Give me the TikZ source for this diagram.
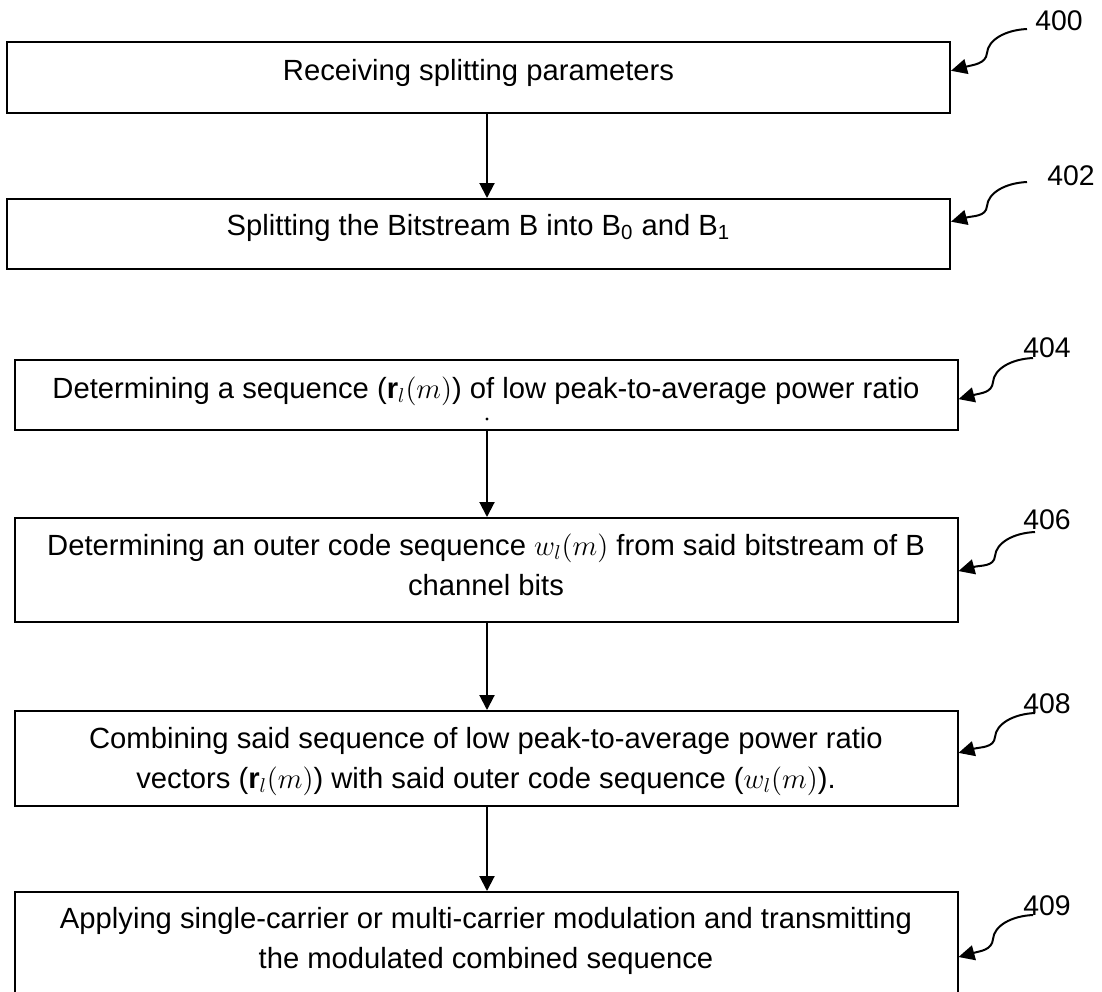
\documentclass[tikz,border=0pt]{standalone}
\usepackage{fontspec}
\setmainfont{Liberation Sans}
\usetikzlibrary{arrows.meta,calc}
\tikzset{
  stepbox/.style={draw, line width=1pt, inner xsep=0pt, inner ysep=0pt,
    minimum width=471.5pt, anchor=base,
    font=\fontsize{14.6pt}{20pt}\selectfont},
  reflabel/.style={anchor=base west, inner sep=0pt,
    font=\fontsize{14.2pt}{16pt}\selectfont},
  flow/.style={line width=1pt, -{Triangle[length=7.5pt,width=7.5pt]}},
  lead/.style={line width=1pt, -{Triangle[length=8pt,width=7.5pt]}},
}
\newcommand\callout[2]{\draw[lead] (#1) .. controls ($(#1)+(-22,1)$) and ($(#1)+(-39,11)$) .. ($(#1)+(-40,24)$) .. controls ($(#1)+(-41,35)$) and ($(#2)+(22,-6)$) .. (#2);}
\begin{document}
\begin{tikzpicture}[x=0.5pt,y=-0.5pt]
\useasboundingbox (0,0) rectangle (1102,991);

% step boxes
\node[stepbox, text height=19pt, text depth=16.5pt] (b400) at (478.5,80)
  {Receiving splitting parameters};
\node[stepbox, text height=18pt, text depth=17pt] (b402) at (478.5,235)
  {Splitting the Bitstream B into B\textsubscript{0} and B\textsubscript{1}};
\node[stepbox, text height=19pt, text depth=16pt] (b404) at (486,398)
  {Determining a sequence ($\mathbf{r}_l(m)$) of low peak-to-average power ratio};
\node[stepbox, text height=18.5pt, text depth=33.5pt] (b406) at (486,555)
  {\begin{tabular}[t]{@{}c@{}}Determining an outer code sequence $w_l(m)$ from said bitstream of B\\ channel bits\end{tabular}};
\node[stepbox, text height=18.5pt, text depth=29pt] (b408) at (486,748)
  {\begin{tabular}[t]{@{}c@{}}Combining said sequence of low peak-to-average power ratio\\ vectors ($\mathbf{r}_l(m)$) with said outer code sequence ($w_l(m)$).\end{tabular}};
\node[stepbox, text height=18pt, text depth=36pt] (b409) at (486,928)
  {\begin{tabular}[t]{@{}c@{}}Applying single-carrier or multi-carrier modulation and transmitting\\ the modulated combined sequence\end{tabular}};

% stray dot inside box 404
\fill ($(b404.south)+(1,-12)$) circle (0.8pt);

% flow arrows
\draw[flow] ([xshift=4.25pt]b400.south) -- ([xshift=4.25pt]b402.north);
\draw[flow] ([xshift=0.5pt]b404.south) -- ([xshift=0.5pt]b406.north);
\draw[flow] ([xshift=0.5pt]b406.south) -- ([xshift=0.5pt]b408.north);
\draw[flow] ([xshift=0.5pt]b408.south) -- ([xshift=0.5pt]b409.north);

% reference labels
\node[reflabel] (l400) at (1035,30) {400};
\node[reflabel] (l402) at (1047,185) {402};
\node[reflabel] (l404) at (1023,357) {404};
\node[reflabel] (l406) at (1023,529) {406};
\node[reflabel] (l408) at (1023,713) {408};
\node[reflabel] (l409) at (1023,915) {409};

% callout start points and tips
\coordinate (s400) at (1027,29);
\coordinate (s402) at (1027,182);
\coordinate (s404) at (1033,358);
\coordinate (s406) at (1035,532);
\coordinate (s408) at (1035,713);
\coordinate (s409) at (1033,915);
\coordinate (e400) at ($(b400.north east)!0.408!(b400.south east)$);
\coordinate (e402) at ($(b402.north east)!0.329!(b402.south east)$);
\coordinate (e404) at ($(b404.north east)!0.557!(b404.south east)$);
\coordinate (e406) at ($(b406.north east)!0.51!(b406.south east)$);
\coordinate (e408) at ($(b408.north east)!0.442!(b408.south east)$);
\coordinate (e409) at ($(b409.north east)!0.60!(b409.south east)$);
\callout{s400}{e400}
\callout{s402}{e402}
\callout{s404}{e404}
\callout{s406}{e406}
\callout{s408}{e408}
\callout{s409}{e409}
\end{tikzpicture}
\end{document}
